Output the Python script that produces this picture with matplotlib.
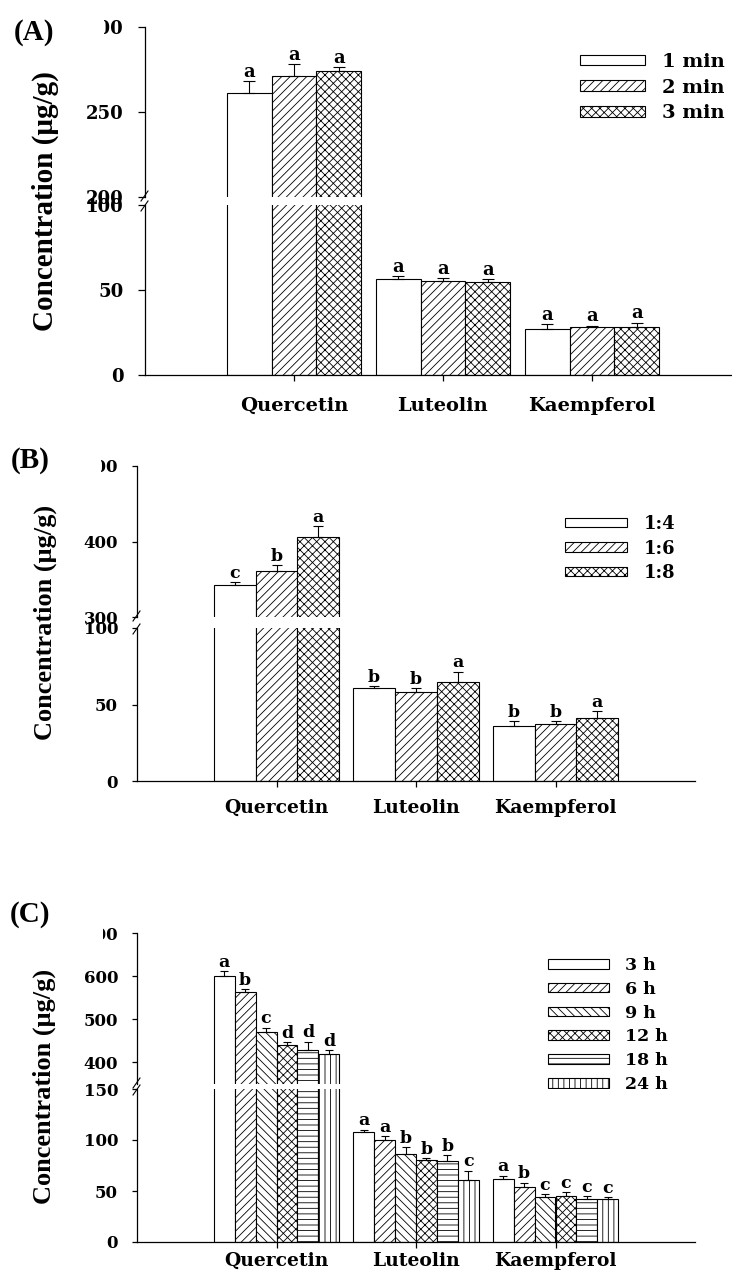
import numpy as np
import matplotlib
matplotlib.use("Agg")
import matplotlib.pyplot as plt
from matplotlib.patches import Rectangle, Patch
from matplotlib.lines import Line2D

W, H, DPI = 732, 1281, 100

compounds = ["Quercetin", "Luteolin", "Kaempferol"]

# (A) extraction time
labels_a = ["1 min", "2 min", "3 min"]
means_a = [[261, 56.5, 27], [271, 55.5, 28], [274, 55, 28]]
errs_a = [[7, 1.5, 3], [7, 1.5, 1], [2.5, 1.5, 2.7]]
sig_a = [["a", "a", "a"], ["a", "a", "a"], ["a", "a", "a"]]

# (B) solid-to-liquid ratio
labels_b = ["1:4", "1:6", "1:8"]
means_b = [[342, 61, 36], [360.5, 58, 37.5], [406.5, 64.5, 41.5]]
errs_b = [[4, 1, 3], [8, 2.5, 1.5], [14, 7, 4]]
sig_b = [["c", "b", "b"], ["b", "b", "b"], ["a", "a", "a"]]

# (C) hydrolysis time
labels_c = ["3 h", "6 h", "9 h", "12 h", "18 h", "24 h"]
means_c = [[600, 108, 62], [564, 100, 54], [470, 86, 44],
           [440, 80, 45], [429, 79, 42], [419, 61, 42]]
errs_c = [[11, 2, 3], [6, 4, 4], [10.5, 7, 3],
          [7, 2, 4], [19, 6, 3], [9, 9, 2]]
sig_c = [["a", "a", "a"], ["b", "a", "b"], ["c", "b", "c"],
         ["d", "b", "c"], ["d", "b", "c"], ["d", "c", "c"]]

plt.rcParams["hatch.linewidth"] = 0.6
plt.rcParams["hatch.color"] = "black"

SERIF = "DejaVu Serif"
TIMES = "Liberation Serif"

fig = plt.figure(figsize=(W / DPI, H / DPI), dpi=DPI)


def rect(left, right, top, bottom):
    return [left / W, 1 - bottom / H, (right - left) / W, (bottom - top) / H]


def panel(tag, labels, means, errs, sigs, hatches, hi_lim, lo_lim, hi_ticks, lo_ticks,
          left, right, hi_top, hi_bot, lo_top, lo_bot, fs, cat_fs, sig_fs, ylab_fs,
          capsize, cat_pad, tick_len, tick_pad, mask_right,
          leg_xy, leg_fs, leg_geom, tag_xy, ylab_x):
    ax_hi = fig.add_axes(rect(left, right, hi_top, hi_bot))
    ax_lo = fig.add_axes(rect(left, right, lo_top, lo_bot))
    n = len(labels)
    group = 0.9
    w = group / n
    x = np.arange(1, len(compounds) + 1)
    handles = []
    for i in range(n):
        pos = x - group / 2 + w * (i + 0.5)
        for ax in (ax_hi, ax_lo):
            ax.bar(pos, means[i], w, color="white", edgecolor="black",
                   hatch=hatches[i], lw=0.8, zorder=2)
            ax.errorbar(pos, means[i], yerr=[np.zeros(len(pos)), errs[i]], fmt="none",
                        ecolor="black", elinewidth=0.8, capsize=capsize,
                        capthick=0.8, zorder=3)
        for j in range(len(pos)):
            ax = ax_hi if means[i][j] > lo_lim[1] else ax_lo
            ax.annotate(sigs[i][j], (pos[j], means[i][j] + errs[i][j]),
                        xytext=(0, 0.3), textcoords="offset points",
                        ha="center", va="bottom", fontsize=sig_fs,
                        family=SERIF, weight="bold", zorder=4)
        handles.append(Patch(facecolor="white", edgecolor="black",
                             hatch=hatches[i], lw=0.8))

    for ax in (ax_hi, ax_lo):
        ax.set_xlim(0, 4)
        for s in ("top", "right"):
            ax.spines[s].set_visible(False)
        ax.spines["left"].set_linewidth(0.9)
        ax.tick_params(axis="y", direction="out", length=tick_len, width=0.9,
                       labelsize=fs, pad=tick_pad)
    ax_hi.set_ylim(*hi_lim)
    ax_lo.set_ylim(*lo_lim)
    ax_hi.set_yticks(hi_ticks)
    ax_lo.set_yticks(lo_ticks)
    ax_hi.spines["bottom"].set_visible(False)
    ax_hi.set_xticks([])
    ax_lo.spines["bottom"].set_linewidth(0.9)
    ax_lo.set_xticks(x)
    ax_lo.set_xticklabels(compounds)
    ax_lo.tick_params(axis="x", direction="out", length=4, width=0.9,
                      labelsize=cat_fs, pad=cat_pad)
    for ax in (ax_hi, ax_lo):
        for t in ax.get_yticklabels() + ax.get_xticklabels():
            t.set_family(SERIF)
            t.set_weight("bold")

    # axis break marks
    for yb in (hi_bot - 1, lo_top + 1):
        fig.add_artist(Line2D([(left - 4) / W, (left + 3) / W],
                              [1 - (yb + 5) / H, 1 - (yb - 5) / H],
                              transform=fig.transFigure, color="black", lw=0.8))

    # top tick label partly masked by the panel margin
    fig.add_artist(Rectangle((64 / W, 1 - (hi_top + 12) / H), (mask_right - 64) / W, 24 / H,
                             transform=fig.transFigure, facecolor="white",
                             edgecolor="none", zorder=10))

    lx, ly = leg_xy
    hl, hh, tp, ls = leg_geom
    ax_hi.legend(handles, labels, loc="upper left",
                 bbox_to_anchor=(lx / W, 1 - ly / H), bbox_transform=fig.transFigure,
                 frameon=False, borderpad=0, borderaxespad=0, handlelength=hl,
                 handleheight=hh, handletextpad=tp, labelspacing=ls,
                 prop={"family": SERIF, "weight": "bold", "size": leg_fs})

    fig.text(tag_xy[0] / W, 1 - tag_xy[1] / H, tag, ha="left", va="center",
             family=TIMES, weight="bold", fontsize=21)
    fig.text(ylab_x / W, 1 - (hi_bot + lo_top) / 2 / H, "Concentration (\u03bcg/g)",
             rotation=90, ha="center", va="center", family=TIMES, weight="bold",
             fontsize=ylab_fs)


panel("(A)", labels_a, means_a, errs_a, sig_a, [None, "////", "xxxx"],
      (200, 300), (0, 100), [200, 250, 300], [0, 50, 100],
      145, 741, 27, 197, 205, 375, 13, 14, 13, 21,
      4.5, 12, 5, 10.5, 104,
      (580, 53), 14, (3.35, 0.46, 0.85, 0.39), (14, 33), 45)

panel("(B)", labels_b, means_b, errs_b, sig_b, [None, "////", "xxxx"],
      (300, 500), (0, 100), [300, 400, 500], [0, 50, 100],
      137, 695, 466, 617, 628, 781, 12, 13.5, 12.5, 19,
      3.5, 9, 3.6, 10, 101,
      (565, 515), 13, (3.45, 0.45, 0.9, 0.36), (11, 461), 45)

panel("(C)", labels_c, means_c, errs_c, sig_c,
      [None, "////", "\\\\\\\\", "xxxx", "---", "|||"],
      (350, 700), (0, 150), [400, 500, 600, 700], [0, 50, 100, 150],
      137, 695, 933, 1084, 1089, 1242, 12, 13.5, 12.5, 19,
      3.0, 3, 3.6, 10, 103,
      (548, 957), 12.5, (3.5, 0.48, 0.92, 0.39), (10, 914), 44)

fig.savefig("out.png", dpi=DPI)
